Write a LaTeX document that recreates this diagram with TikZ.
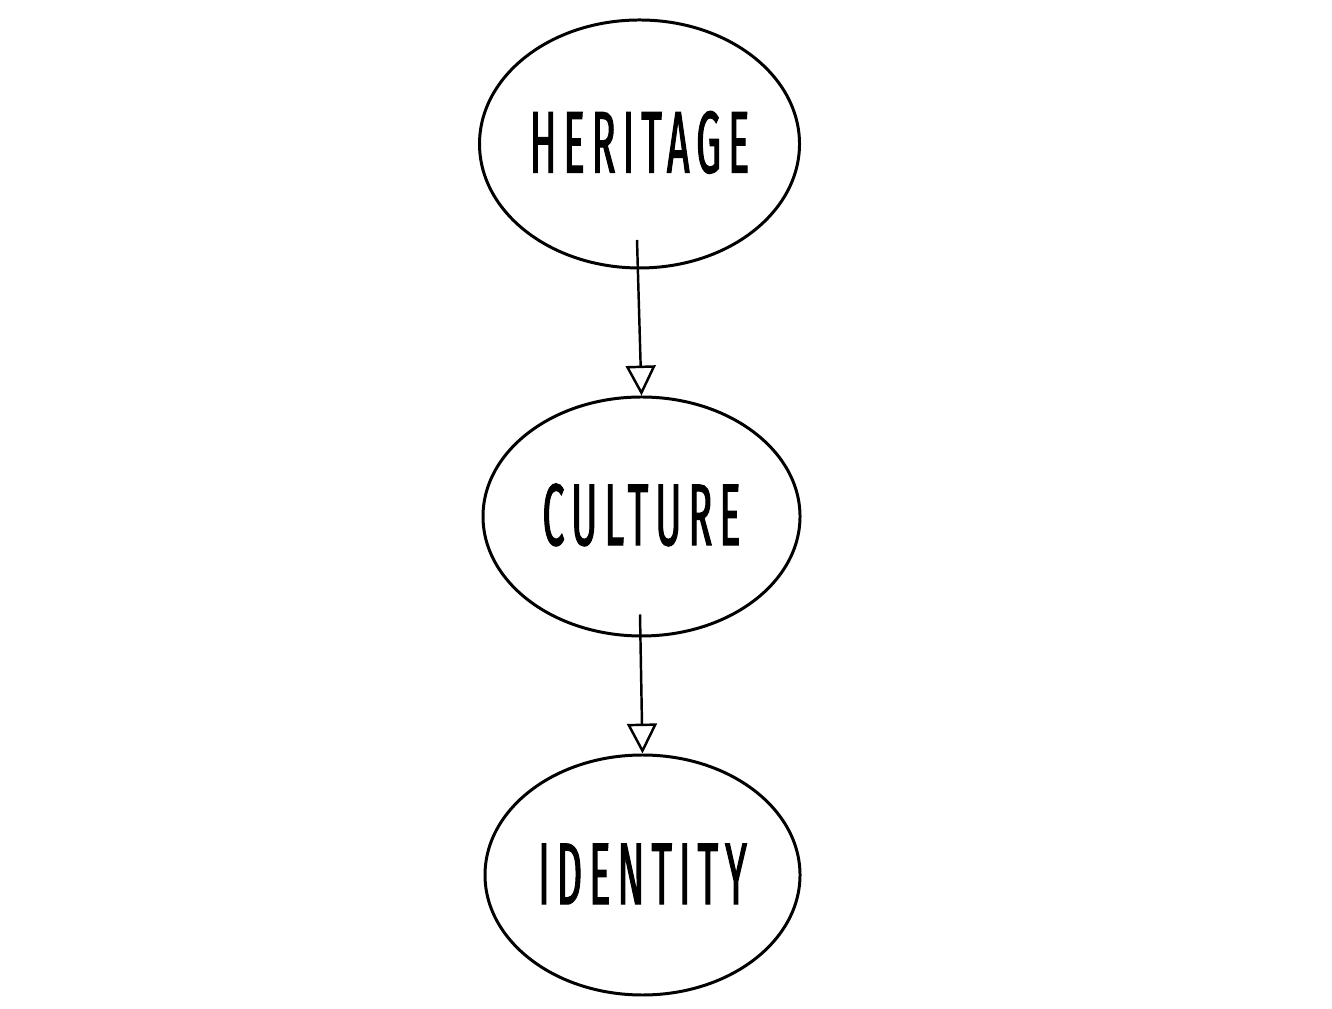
\documentclass[tikz,border=0pt]{standalone}
\usepackage{fontspec}
\usetikzlibrary{shapes.geometric,arrows.meta,calc}
\newfontfamily\handfont[FakeStretch=0.45,LetterSpace=8,FakeBold=1.2]{Fira Sans}
\tikzset{
  bubble/.style={draw=black, line width=0.85pt, ellipse, inner sep=0pt,
    font=\handfont\fontsize{25}{25}\selectfont},
  link/.style={draw=black, line width=0.7pt,
    -{Triangle[open, width=8.5pt, length=8.5pt, line width=0.7pt]}}
}
\begin{document}
\begin{tikzpicture}
\useasboundingbox (0,0) rectangle (13.32,10.08);
\node[bubble, minimum width=3.20cm, minimum height=2.48cm] (h) at (6.395,8.64) {\raisebox{1.2pt}{HERITAGE}};
\node[bubble, minimum width=3.17cm, minimum height=2.39cm] (c) at (6.415,4.915) {\raisebox{1.2pt}{CULTURE}};
\node[bubble, minimum width=3.15cm, minimum height=2.40cm] (i) at (6.425,1.33) {\raisebox{0.6pt}{IDENTITY}};
\coordinate (s1) at ($(h.center)+(-0.025,-0.96)$);
\coordinate (s2) at ($(c.center)+(-0.015,-0.98)$);
\draw[link] (s1) -- (c.north);
\draw[link] (s2) -- (i.north);
\end{tikzpicture}
\end{document}
